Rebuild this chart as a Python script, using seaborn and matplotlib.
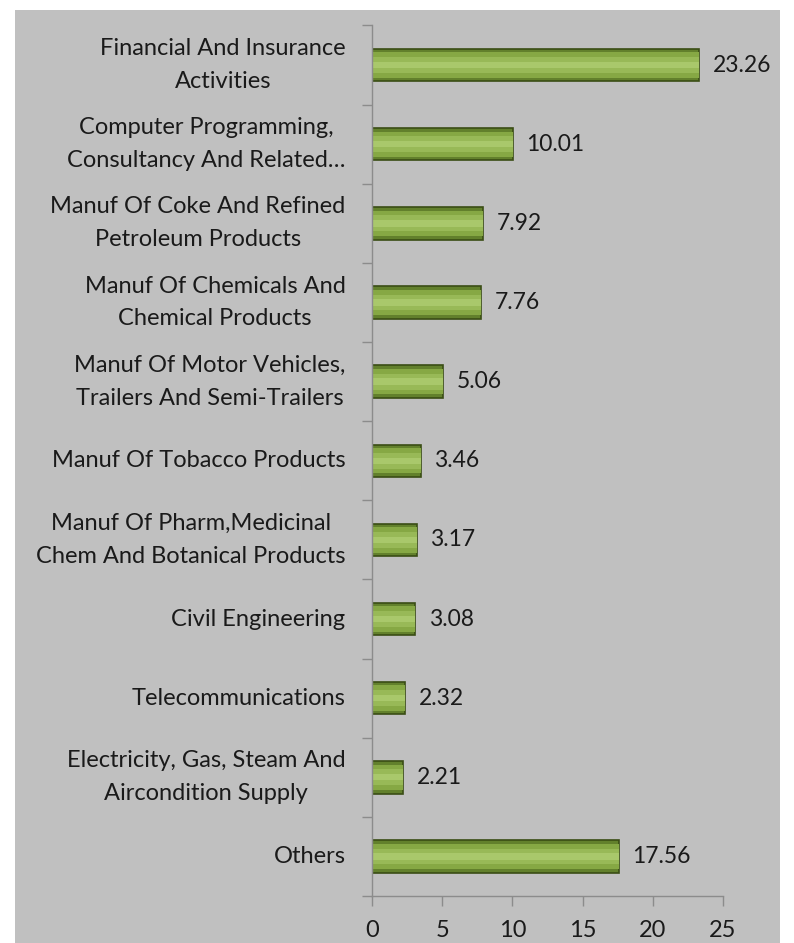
import matplotlib
matplotlib.use("Agg")
import matplotlib.pyplot as plt
import seaborn as sns
import pandas as pd
from matplotlib.patches import Rectangle

categories = [
    "Financial And Insurance\nActivities",
    "Computer Programming,\nConsultancy And Related…",
    "Manuf Of Coke And Refined\nPetroleum Products",
    "Manuf Of Chemicals And\nChemical Products",
    "Manuf Of Motor Vehicles,\nTrailers And Semi-Trailers",
    "Manuf Of Tobacco Products",
    "Manuf Of Pharm,Medicinal\nChem And Botanical Products",
    "Civil Engineering",
    "Telecommunications",
    "Electricity, Gas, Steam And\nAircondition Supply",
    "Others",
]
values = [23.26, 10.01, 7.92, 7.76, 5.06, 3.46, 3.17, 3.08, 2.32, 2.21, 17.56]
value_labels = ["23.26", "10.01", "7.92", "7.76", "5.06", "3.46", "3.17", "3.08", "2.32", "2.21", "17.56"]
x_ticks = [0, 5, 10, 15, 20, 25]

df = pd.DataFrame({"category": categories, "value": values})

sns.set_style("white")
plt.rcParams["font.family"] = ["Lato", "DejaVu Sans"]

fig = plt.figure(figsize=(7.94, 9.43), dpi=100)
fig.patch.set_facecolor("white")
bg = Rectangle((15 / 794, 0), (780 - 15) / 794, 1 - 10 / 943,
               transform=fig.transFigure, facecolor="#C0C0C0", edgecolor="none", zorder=-10)
fig.patches.append(bg)

ax = fig.add_axes([372 / 794, 1 - 896 / 943, (723 - 372) / 794, (896 - 25.5) / 943])
ax.set_facecolor("none")

# base (darker bevel) bar
sns.barplot(data=df, y="category", x="value", orient="h", color="#62802C",
            saturation=1, width=0.41, edgecolor="#3A4D15", linewidth=1.2, ax=ax)
# main face
sns.barplot(data=df, y="category", x="value", orient="h", color="#86A844",
            saturation=1, width=0.32, edgecolor="none", ax=ax)
# soft highlight
sns.barplot(data=df, y="category", x="value", orient="h", color="#98B957",
            saturation=1, width=0.20, edgecolor="none", ax=ax)
sns.barplot(data=df, y="category", x="value", orient="h", color="#A9C86B",
            saturation=1, width=0.08, edgecolor="none", ax=ax)

for i, (v, lab) in enumerate(zip(values, value_labels)):
    ax.annotate(lab, xy=(v, i), xytext=(10, 0), textcoords="offset points",
                ha="left", va="center", fontsize=16.5, color="#1a1a1a")

ax.set_xlim(0, 25)
ax.set_ylim(len(categories) - 0.5, -0.5)
ax.set_xticks(x_ticks)
ax.set_xticklabels([str(t) for t in x_ticks], fontsize=17, color="#1a1a1a")
ax.set_yticks([i - 0.5 for i in range(len(categories) + 1)], minor=False)
ax.set_yticklabels([])
ax.set_yticks(range(len(categories)), minor=True)
ax.set_yticklabels(categories, minor=True, fontsize=17, linespacing=1.7,
                   ha="right", va="center", multialignment="center", color="#1a1a1a")
ax.tick_params(axis="y", which="minor", left=False, length=0, pad=19)
ax.tick_params(axis="y", which="major", left=True, length=7, width=1, color="#8C8C8C", direction="out")
ax.tick_params(axis="x", bottom=True, length=7, width=1, color="#8C8C8C", direction="out", pad=10)
ax.set_xlabel("")
ax.set_ylabel("")

for side in ["top", "right"]:
    ax.spines[side].set_visible(False)
for side in ["left", "bottom"]:
    ax.spines[side].set_color("#8C8C8C")
    ax.spines[side].set_linewidth(1)

fig.savefig("out.png", dpi=100, facecolor="white")
